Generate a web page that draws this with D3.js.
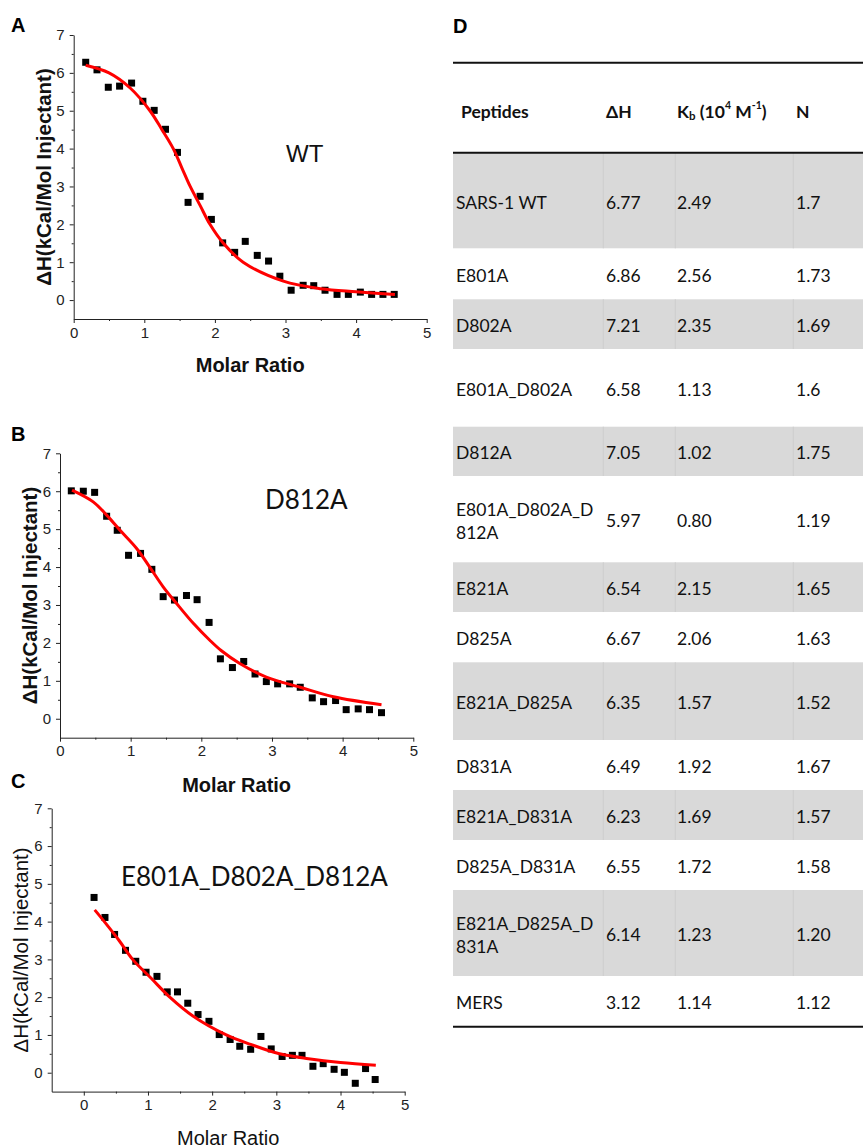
<!DOCTYPE html>
<html><head><meta charset="utf-8">
<script src="https://cdn.jsdelivr.net/npm/d3@7/dist/d3.min.js"></script>
<style>
html,body{margin:0;padding:0;background:#fff;}
svg{display:block;}
</style></head>
<body>
<script>
// ---------- DATA ----------
const xTicks = [0, 1, 2, 3, 4, 5];
const yTicks = [0, 1, 2, 3, 4, 5, 6, 7];

// Panel A (WT)
const molarA = [0.17,0.33,0.49,0.65,0.82,0.98,1.14,1.30,1.47,1.62,1.79,1.95,2.11,2.28,2.43,2.60,2.76,2.92,3.08,3.25,3.40,3.56,3.73,3.89,4.06,4.22,4.38,4.54];
const dhA    = [6.28,6.08,5.62,5.65,5.73,5.25,5.01,4.51,3.90,2.58,2.74,2.13,1.51,1.26,1.55,1.18,1.03,0.63,0.26,0.39,0.38,0.26,0.15,0.15,0.21,0.15,0.15,0.15];
const fitXA  = [0.17,0.5,0.8,1.08,1.25,1.41,1.53,1.65,1.79,1.93,2.12,2.4,2.97,3.5,4.0,4.55];
const fitYA  = [6.2,6.0,5.6,5.0,4.5,4.0,3.5,3.0,2.5,2.0,1.5,1.0,0.5,0.3,0.22,0.15];

// Panel B (D812A)
const molarB = [0.16,0.33,0.49,0.66,0.81,0.97,1.14,1.30,1.46,1.62,1.79,1.94,2.11,2.27,2.44,2.60,2.76,2.92,3.08,3.25,3.40,3.57,3.73,3.90,4.05,4.22,4.38,4.55];
const dhB    = [6.01,6.00,5.97,5.34,4.97,4.31,4.36,3.94,3.22,3.13,3.25,3.14,2.54,1.58,1.35,1.51,1.18,0.98,0.92,0.92,0.83,0.55,0.45,0.48,0.24,0.26,0.24,0.16];
const fitXB  = [0.17,0.47,0.66,0.85,1.085,1.27,1.46,1.65,1.89,2.12,2.28,2.55,2.92,3.40,3.87,4.55];
const fitYB  = [6.03,5.72,5.37,4.97,4.49,4.0,3.48,3.04,2.51,2.07,1.80,1.45,1.10,0.83,0.58,0.37];

// Panel C (E801A_D802A_D812A)
const molarC = [0.16,0.33,0.48,0.65,0.81,0.97,1.14,1.30,1.46,1.62,1.78,1.95,2.11,2.28,2.43,2.60,2.76,2.92,3.09,3.25,3.40,3.57,3.73,3.90,4.06,4.23,4.39,4.54];
const dhC    = [4.64,4.11,3.66,3.24,2.95,2.66,2.55,2.14,2.14,1.84,1.54,1.36,1.01,0.88,0.70,0.62,0.96,0.63,0.43,0.46,0.46,0.17,0.24,0.09,0.01,-0.28,0.11,-0.18];
const fitXC  = [0.17,0.32,0.55,0.76,1.05,1.34,1.7,2.22,2.6,3.05,3.5,4.0,4.55];
const fitYC  = [4.31,4.0,3.5,3.0,2.5,2.0,1.5,1.0,0.75,0.5,0.37,0.27,0.2];

// Panel D table
const peptides = ["SARS-1 WT","E801A","D802A","E801A_D802A","D812A","E801A_D802A_D812A","E821A","D825A","E821A_D825A","D831A","E821A_D831A","D825A_D831A","E821A_D825A_D831A","MERS"];
const dH  = ["6.77","6.86","7.21","6.58","7.05","5.97","6.54","6.67","6.35","6.49","6.23","6.55","6.14","3.12"];
const kb  = ["2.49","2.56","2.35","1.13","1.02","0.80","2.15","2.06","1.57","1.92","1.69","1.72","1.23","1.14"];
const nVals = ["1.7","1.73","1.69","1.6","1.75","1.19","1.65","1.63","1.52","1.67","1.57","1.58","1.20","1.12"];

// ---------- LAYOUT ----------
const W = 863, H = 1148;
const svg = d3.select("body").append("svg").attr("width", W).attr("height", H);
const AX_FONT = "'Liberation Sans', Arial, sans-serif";
const TB_FONT = "Lato, 'Open Sans', sans-serif";

function panel(cfg) {
  const g = svg.append("g");
  const x = d3.scaleLinear().domain(cfg.xDomain).range(cfg.xRange);
  const y = d3.scaleLinear().domain([-0.5, 7]).range(cfg.yRange);
  const y0 = cfg.yRange[0], x0 = cfg.xRange[0];

  const minorX = [0.5,1.5,2.5,3.5,4.5];
  const minorY = [0.5,1.5,2.5,3.5,4.5,5.5,6.5];

  g.append("g").attr("transform", `translate(0,${y0})`)
    .call(d3.axisBottom(x).tickValues(minorX).tickSize(2).tickSizeOuter(0).tickFormat(""))
    .call(s => s.select(".domain").remove());
  g.append("g").attr("transform", `translate(${x0},0)`)
    .call(d3.axisLeft(y).tickValues(minorY).tickSize(2).tickSizeOuter(0).tickFormat(""))
    .call(s => s.select(".domain").remove());
  const xa = g.append("g").attr("transform", `translate(0,${y0})`)
    .call(d3.axisBottom(x).tickValues(xTicks).tickSize(4).tickSizeOuter(0).tickPadding(4).tickFormat(d3.format("d")));
  const ya = g.append("g").attr("transform", `translate(${x0},0)`)
    .call(d3.axisLeft(y).tickValues(yTicks).tickSize(4).tickSizeOuter(0).tickPadding(5).tickFormat(d3.format("d")));
  [xa, ya].forEach(a => {
    a.selectAll("text").attr("font-family", AX_FONT).attr("font-size", 15).attr("fill", "#222");
    a.selectAll("line,path").attr("stroke", "#222");
  });
  g.selectAll(".tick line").attr("stroke", "#222");

  g.append("text").attr("x", (cfg.xRange[0] + cfg.xRange[1]) / 2).attr("y", cfg.xTitleY)
    .attr("text-anchor", "middle").attr("font-family", AX_FONT).attr("font-size", 20)
    .attr("font-weight", cfg.bold ? "bold" : "normal").attr("fill", "#111").text("Molar Ratio");
  g.append("text")
    .attr("transform", `translate(${cfg.yTitleX},${(cfg.yRange[0] + cfg.yRange[1]) / 2}) rotate(-90)`)
    .attr("text-anchor", "middle").attr("dominant-baseline", "central")
    .attr("font-family", AX_FONT).attr("font-size", cfg.bold ? 20.5 : 20.5)
    .attr("font-weight", cfg.bold ? "bold" : "normal").attr("fill", "#111").text("ΔH(kCal/Mol Injectant)");

  g.selectAll("rect.pt").data(cfg.px.map((v, i) => [v, cfg.py[i]])).enter().append("rect")
    .attr("x", d => x(d[0]) - 3.5).attr("y", d => y(d[1]) - 3.5)
    .attr("width", 7).attr("height", 7).attr("fill", "#000");
  const line = d3.line().x(d => x(d[0])).y(d => y(d[1])).curve(d3.curveCatmullRom.alpha(0.5));
  g.append("path").datum(cfg.fx.map((v, i) => [v, cfg.fy[i]]))
    .attr("d", line).attr("fill", "none").attr("stroke", "#f00").attr("stroke-width", 3);

  g.append("text").attr("x", cfg.ann.x).attr("y", cfg.ann.y)
    .attr("font-family", cfg.ann.font).attr("font-size", cfg.ann.size).attr("fill", "#111").text(cfg.ann.text);
  g.append("text").attr("x", 11).attr("y", cfg.letterY).attr("font-family", AX_FONT)
    .attr("font-size", 20).attr("font-weight", "bold").attr("fill", "#000").text(cfg.letter);
}

panel({letter: "A", letterY: 32, xDomain: [0, 5], xRange: [73.7, 426.7], yRange: [319, 35],
  xTitleY: 372, yTitleX: 43, bold: true, px: molarA, py: dhA, fx: fitXA, fy: fitYA,
  ann: {text: "WT", x: 286, y: 162, size: 24, font: AX_FONT}});
panel({letter: "B", letterY: 441, xDomain: [0, 5], xRange: [60, 413.3], yRange: [737.7, 453.3],
  xTitleY: 792, yTitleX: 29, bold: true, px: molarB, py: dhB, fx: fitXB, fy: fitYB,
  ann: {text: "D812A", x: 265, y: 509, size: 26, font: TB_FONT}});
panel({letter: "C", letterY: 788, xDomain: [-0.5, 5], xRange: [51.7, 404.7], yRange: [1091.6, 808.3],
  xTitleY: 1145, yTitleX: 20, bold: false, px: molarC, py: dhC, fx: fitXC, fy: fitYC,
  ann: {text: "E801A_D802A_D812A", x: 121, y: 886, size: 26, font: TB_FONT}});

// ---------- TABLE (D) ----------
const tg = svg.append("g");
tg.append("text").attr("x", 453).attr("y", 33).attr("font-family", AX_FONT).attr("font-size", 20)
  .attr("font-weight", "bold").attr("fill", "#000").text("D");

const tLeft = 453, tRight = 863;
const colX = [456, 606, 677, 796];
const colSep = [603.3, 675.3, 793.3];
const rowHeights = [95.3, 51, 49.7, 77.7, 49.3, 86.3, 49.7, 50.3, 77.7, 50, 50, 50, 86, 50.7];
const tableTop = 153;
const rowTops = [];
rowHeights.reduce((acc, h) => { rowTops.push(acc); return acc + h; }, tableTop);
const tableBottom = tableTop + d3.sum(rowHeights);

peptides.forEach((p, i) => {
  if (i % 2 === 0) {
    tg.append("rect").attr("x", tLeft).attr("y", rowTops[i]).attr("width", tRight - tLeft)
      .attr("height", rowHeights[i]).attr("fill", "#d9d9d9");
    colSep.forEach(cx => tg.append("line").attr("x1", cx).attr("x2", cx)
      .attr("y1", rowTops[i]).attr("y2", rowTops[i] + rowHeights[i]).attr("stroke", "#cdcdcd").attr("stroke-width", 1));
  }
});

[[62.7, 2], [152.7, 2], [tableBottom, 2]].forEach(([yy, w]) =>
  tg.append("line").attr("x1", tLeft).attr("x2", tRight).attr("y1", yy).attr("y2", yy)
    .attr("stroke", "#111").attr("stroke-width", w));

const hdrY = 111;
const hdr = tg.append("g").attr("font-family", TB_FONT).attr("font-size", 17.5).attr("font-weight", "bold").attr("fill", "#111");
hdr.append("text").attr("x", 461).attr("y", hdrY).attr("dominant-baseline", "central").text("Peptides");
hdr.append("text").attr("x", colX[1]).attr("y", hdrY).attr("dominant-baseline", "central").text("ΔH");
const kt = hdr.append("text").attr("x", colX[2]).attr("y", hdrY).attr("dominant-baseline", "central");
kt.append("tspan").text("K");
kt.append("tspan").attr("font-size", 11.5).attr("dy", 4).text("b");
kt.append("tspan").attr("dy", -4).text(" (10");
kt.append("tspan").attr("font-size", 10.5).attr("dy", -6).text("4");
kt.append("tspan").attr("dy", 6).text(" M");
kt.append("tspan").attr("font-size", 10.5).attr("dy", -6).text("-1");
kt.append("tspan").attr("dy", 6).text(")");
hdr.append("text").attr("x", colX[3]).attr("y", hdrY).attr("dominant-baseline", "central").text("N");

const body = tg.append("g").attr("font-family", TB_FONT).attr("font-size", 17.5).attr("fill", "#111");
peptides.forEach((p, i) => {
  const cy = rowTops[i] + rowHeights[i] / 2 + 1.5;
  const vals = [dH[i], kb[i], nVals[i]];
  if (p.length > 14) {
    const lines = [p.slice(0, 13), p.slice(13)];
    lines.forEach((ln, j) => body.append("text").attr("x", colX[0]).attr("y", cy - 11 + j * 23)
      .attr("dominant-baseline", "central").text(ln));
  } else {
    body.append("text").attr("x", colX[0]).attr("y", cy).attr("dominant-baseline", "central").text(p);
  }
  vals.forEach((v, j) => body.append("text").attr("x", colX[j + 1]).attr("y", cy)
    .attr("dominant-baseline", "central").text(v));
});
</script>
</body></html>
